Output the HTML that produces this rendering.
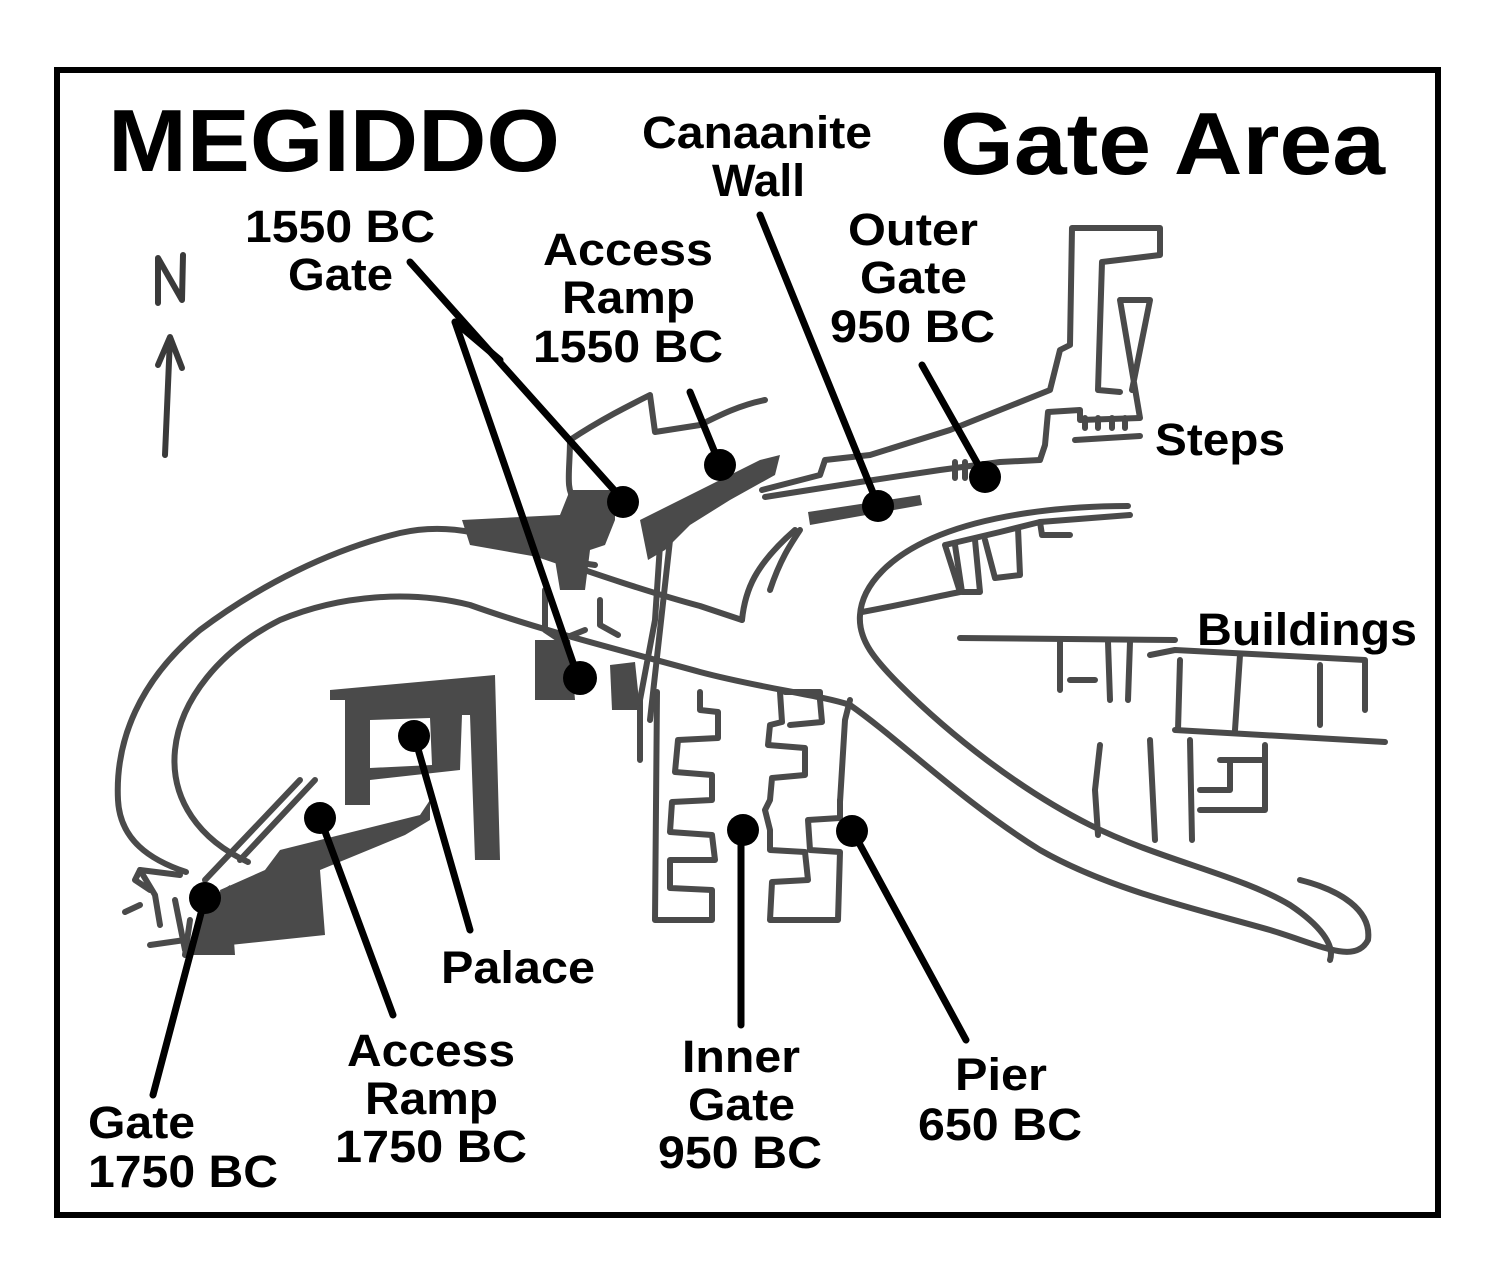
<!DOCTYPE html>
<html><head><meta charset="utf-8"><style>
html,body{margin:0;padding:0;background:#fff;}
svg{display:block;}
text{font-family:"Liberation Sans",Arial,sans-serif;font-weight:bold;fill:#000;}
</style></head><body>
<svg width="1494" height="1263" viewBox="0 0 1494 1263" xmlns="http://www.w3.org/2000/svg">
<rect x="0" y="0" width="1494" height="1263" fill="#fff"/>
<rect x="57" y="70" width="1381" height="1145" fill="none" stroke="#000" stroke-width="6"/>

<g fill="none" stroke="#4a4a4a" stroke-width="6" stroke-linecap="round" stroke-linejoin="round">
 <path d="M186,872 C150,860 120,840 118,800 C115,740 140,680 200,630 C260,585 330,550 400,533 C440,524 480,530 520,548 C570,565 640,590 700,606 L742,620"/>
 <path d="M742,620 C745,590 755,565 795,530"/>
 <path d="M248,862 C200,840 170,800 175,750 C180,700 220,650 280,620 C340,595 410,590 470,605 C540,630 620,650 700,672 C760,688 820,695 850,705"/>
 <path d="M1128,506 C1060,506 990,515 940,535 C890,555 862,585 860,615 C858,640 875,660 900,685 C950,735 1020,790 1090,825 C1160,860 1240,875 1290,905 C1320,925 1335,945 1330,960"/>
 <path d="M850,705 C900,740 960,800 1040,850 C1110,890 1200,910 1270,930 C1320,945 1355,965 1368,940 C1372,910 1340,890 1300,880"/>
 <path d="M862,612 C900,605 930,598 960,592"/>
 <path d="M570,440 C600,420 630,405 650,395 L655,432 L700,425 C720,415 740,405 765,400"/>
 <path d="M570,440 C570,470 565,490 575,500"/>
 <path d="M762,490 L820,475 L825,460 L870,455 L950,430 L1050,390 L1060,350 L1070,345 L1072,228 L1160,228 L1160,255 L1102,262 L1098,390 L1120,392"/>
 <path d="M765,497 L860,482 L940,470 L1000,462 L1040,460 L1045,445 L1048,412 L1080,410 L1080,420 L1140,418 L1120,300 L1150,300 L1132,390"/>
 <path d="M1075,440 L1140,436"/>
 <path d="M1085,428 L1085,418 M1098,428 L1098,418 M1112,428 L1112,418 M1125,428 L1125,418"/>
 <path d="M955,462 L955,478 M965,462 L965,478"/>
 <path d="M770,590 C780,560 790,545 800,530"/>
 <path d="M960,592 L945,545 L1000,532 L1040,522 L1130,515"/>
 <path d="M955,545 L962,592 L980,592 L975,540 M985,540 L995,578 L1020,575 L1018,528"/>
 <path d="M1040,522 L1042,535 L1070,535"/>
 <path d="M660,545 L655,620 L640,700 L640,760"/>
 <path d="M670,540 L660,630 L650,720"/>
 <path d="M545,590 L545,630 L560,640 L585,630 M600,600 L600,625 L618,635"/>
 <path d="M560,560 L595,565"/>
 <path d="M657,692 L655,920 L712,920 L712,890 L670,888 L670,860 L715,860 L712,835 L670,832 L672,802 L712,800 L712,775 L675,772 L678,740 L718,738 L718,712 L700,710 L700,692"/>
 <path d="M780,692 L782,722 L770,725 L768,745 L805,748 L805,775 L772,778 L770,800 L765,810 L770,830 L770,850 L805,852 L808,880 L772,882 L770,920 L838,920 L840,852 L810,850 L808,820 L840,818 L840,800"/>
 <path d="M785,692 L820,692 L820,700"/>
 <path d="M840,802 L845,720 L850,700"/>
 <path d="M820,700 L822,722 L790,725"/>
 <path d="M140,905 L125,912 M150,890 L135,880 L140,870 L180,875"/>
 <path d="M205,880 L300,780 M240,860 L315,780 M150,945 L185,940 M185,955 L190,920"/>
 <path d="M140,870 L155,895 L160,925 M175,900 L185,950"/>
 <path d="M960,638 L1175,640"/>
 <path d="M1060,640 L1060,690 M1070,680 L1095,680 M1108,642 L1110,700 M1130,642 L1128,700"/>
 <path d="M1150,655 L1175,650 L1365,660 L1365,710 M1240,655 L1235,730 M1320,665 L1320,725 M1180,660 L1178,730"/>
 <path d="M1175,730 L1385,742"/>
 <path d="M1150,740 L1155,840 M1190,740 L1192,840 M1265,745 L1265,810 L1200,810 M1200,790 L1230,790 L1230,760 M1220,760 L1265,760"/>
 <path d="M1100,745 L1095,790 L1098,835"/>
</g>
<g fill="#4a4a4a">
 <path d="M462,520 L560,515 L570,490 L615,490 L615,520 L605,545 L590,550 L585,590 L560,590 L555,560 L470,545 Z"/>
 <path d="M640,520 L680,500 L760,460 L780,455 L775,475 L730,500 L690,525 L665,550 L648,560 Z"/>
 <path d="M808,512 L920,495 L922,505 L810,525 Z"/>
 <path d="M535,640 L570,640 L575,700 L535,700 Z"/>
 <path d="M610,665 L635,662 L640,710 L612,710 Z"/>
 <path d="M330,690 L495,675 L500,860 L475,860 L470,715 L462,715 L460,770 L370,780 L370,805 L345,805 L345,700 L330,700 Z M370,720 L430,718 L432,765 L370,768 Z" fill-rule="evenodd"/>
 <rect x="432" y="715" width="8" height="50"/>
 <path d="M280,850 L420,815 L430,800 L430,820 L405,835 L320,870 L325,935 L230,945 L220,890 L265,870 Z"/>
 <path d="M200,905 L230,885 L235,955 L190,955 Z"/>
</g>
<g fill="none" stroke="#3a3a3a" stroke-width="6" stroke-linecap="round" stroke-linejoin="round">
 <path d="M158,303 L158,258 L182,300 L183,255"/>
 <path d="M165,455 L170,338"/>
 <path d="M158,365 L170,337 L182,368"/>
</g>
<g stroke="#000" stroke-width="7" stroke-linecap="round">
 <line x1="410" y1="262" x2="623" y2="500"/>
 <line x1="455" y1="322" x2="578" y2="677"/>
 <line x1="455" y1="322" x2="500" y2="360"/>
 <line x1="690" y1="392" x2="720" y2="465"/>
 <line x1="760" y1="215" x2="878" y2="505"/>
 <line x1="922" y1="365" x2="985" y2="477"/>
 <line x1="153" y1="1095" x2="205" y2="898"/>
 <line x1="320" y1="818" x2="393" y2="1015"/>
 <line x1="414" y1="735" x2="470" y2="930"/>
 <line x1="741" y1="828" x2="741" y2="1025"/>
 <line x1="852" y1="830" x2="966" y2="1040"/>
</g>
<g fill="#000">
 <circle cx="623" cy="502" r="16"/><circle cx="720" cy="465" r="16"/>
 <circle cx="878" cy="506" r="16"/><circle cx="985" cy="477" r="16"/>
 <circle cx="580" cy="678" r="17"/><circle cx="414" cy="736" r="16"/>
 <circle cx="320" cy="818" r="16"/><circle cx="205" cy="898" r="16"/>
 <circle cx="743" cy="830" r="16"/><circle cx="852" cy="831" r="16"/>
</g>
<g lengthAdjust="spacingAndGlyphs">
<text x="108" y="171" font-size="88" textLength="452" lengthAdjust="spacingAndGlyphs">MEGIDDO</text>
<text x="940" y="174" font-size="88" textLength="445" lengthAdjust="spacingAndGlyphs">Gate Area</text>
</g>
<g font-size="45">
 <text x="642" y="148" textLength="230" lengthAdjust="spacingAndGlyphs">Canaanite</text>
 <text x="712" y="196" textLength="93" lengthAdjust="spacingAndGlyphs">Wall</text>
 <text x="245" y="242" textLength="190" lengthAdjust="spacingAndGlyphs">1550 BC</text>
 <text x="288" y="290" textLength="105" lengthAdjust="spacingAndGlyphs">Gate</text>
 <text x="543" y="265" textLength="170" lengthAdjust="spacingAndGlyphs">Access</text>
 <text x="562" y="313" textLength="133" lengthAdjust="spacingAndGlyphs">Ramp</text>
 <text x="533" y="362" textLength="190" lengthAdjust="spacingAndGlyphs">1550 BC</text>
 <text x="848" y="245" textLength="130" lengthAdjust="spacingAndGlyphs">Outer</text>
 <text x="860" y="293" textLength="107" lengthAdjust="spacingAndGlyphs">Gate</text>
 <text x="830" y="342" textLength="165" lengthAdjust="spacingAndGlyphs">950 BC</text>
 <text x="347" y="1066" textLength="168" lengthAdjust="spacingAndGlyphs">Access</text>
 <text x="365" y="1114" textLength="133" lengthAdjust="spacingAndGlyphs">Ramp</text>
 <text x="335" y="1162" textLength="192" lengthAdjust="spacingAndGlyphs">1750 BC</text>
 <text x="682" y="1072" textLength="118" lengthAdjust="spacingAndGlyphs">Inner</text>
 <text x="688" y="1120" textLength="107" lengthAdjust="spacingAndGlyphs">Gate</text>
 <text x="658" y="1168" textLength="164" lengthAdjust="spacingAndGlyphs">950 BC</text>
 <text x="955" y="1090" textLength="92" lengthAdjust="spacingAndGlyphs">Pier</text>
 <text x="918" y="1140" textLength="164" lengthAdjust="spacingAndGlyphs">650 BC</text>
 <text x="1155" y="455" textLength="130" lengthAdjust="spacingAndGlyphs">Steps</text>
 <text x="1197" y="645" textLength="220" lengthAdjust="spacingAndGlyphs">Buildings</text>
 <text x="441" y="983" textLength="154" lengthAdjust="spacingAndGlyphs">Palace</text>
 <text x="88" y="1138" textLength="107" lengthAdjust="spacingAndGlyphs">Gate</text>
 <text x="88" y="1187" textLength="190" lengthAdjust="spacingAndGlyphs">1750 BC</text>
</g>
</svg>
</body></html>
